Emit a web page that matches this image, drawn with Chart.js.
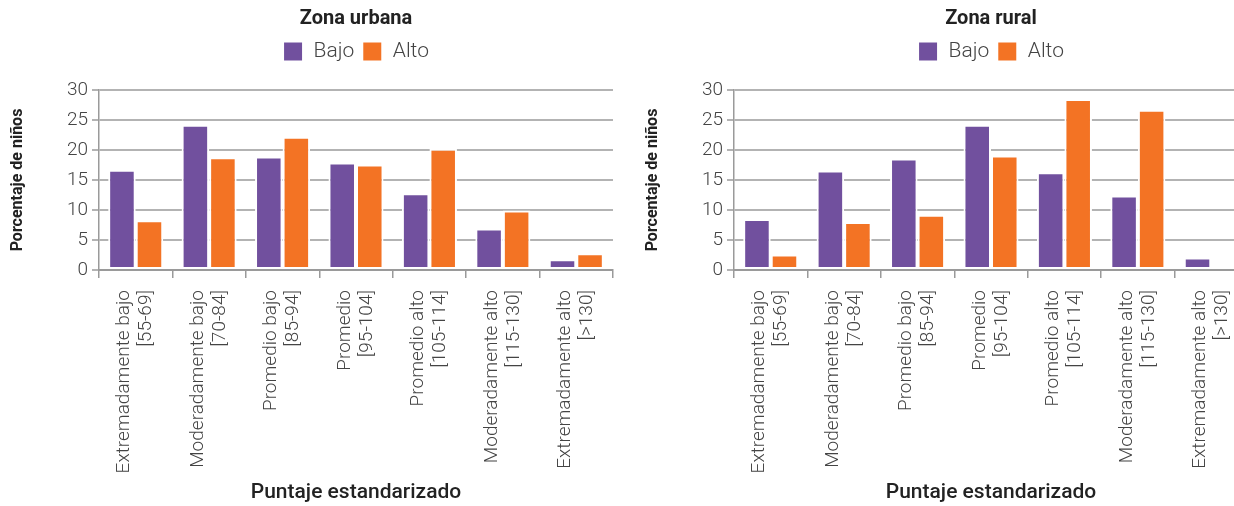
<!DOCTYPE html>
<html>
<head>
<meta charset="utf-8">
<script src="https://cdn.jsdelivr.net/npm/chart.js@4/dist/chart.umd.min.js"></script>
<style>
  html, body { margin: 0; padding: 0; background: #fff; overflow: hidden; width: 1234px; height: 506px; }
  .panel { position: absolute; top: 0; width: 620px; height: 506px; }
  #panel-urbana { left: 0; }
  #panel-rural { left: 635px; }
</style>
</head>
<body>
<div class="panel" id="panel-urbana"><canvas id="urbanaChart" width="620" height="506"></canvas></div>
<div class="panel" id="panel-rural"><canvas id="ruralChart" width="620" height="506"></canvas></div>
<script>
const categories = [
  ['Extremadamente bajo', '[55-69]'],
  ['Moderadamente bajo', '[70-84]'],
  ['Promedio bajo', '[85-94]'],
  ['Promedio', '[95-104]'],
  ['Promedio alto', '[105-114]'],
  ['Moderadamente alto', '[115-130]'],
  ['Extremadamente alto', '[>130]']
];
const seriesNames = ['Bajo', 'Alto'];

const urbanaBajo = [16.7, 24.2, 18.9, 17.9, 12.8, 6.9, 1.8];
const urbanaAlto = [8.3, 18.8, 22.2, 17.6, 20.2, 9.9, 2.8];
const ruralBajo = [8.5, 16.6, 18.6, 24.2, 16.3, 12.4, 2.1];
const ruralAlto = [2.6, 8.0, 9.2, 19.1, 28.5, 26.7, 0];

const yTicks = [0, 5, 10, 15, 20, 25, 30];

const PURPLE = '#71509e';
const ORANGE = '#f37324';
const FONT = 'Roboto, "Liberation Sans", sans-serif';
const TICK_LH = 22;

function makeChart(id, title, bajo, alto) {
  const ctx = document.getElementById(id).getContext('2d');
  return new Chart(ctx, {
    type: 'bar',
    data: {
      labels: categories,
      datasets: [
        { label: seriesNames[0], data: bajo, backgroundColor: PURPLE, borderColor: '#ffffff', borderWidth: 2, borderSkipped: false },
        { label: seriesNames[1], data: alto, backgroundColor: ORANGE, borderColor: '#ffffff', borderWidth: 2, borderSkipped: false }
      ]
    },
    options: {
      responsive: false,
      animation: false,
      datasets: { bar: { categoryPercentage: 0.75, barPercentage: 1.0 } },
      layout: { padding: { left: 0, right: 7, top: 0, bottom: 0 } },
      plugins: {
        title: {
          display: true, text: title, fullSize: false,
          color: '#222',
          font: { family: FONT, size: 20, weight: 'bold', lineHeight: 1.2 },
          padding: { top: 7, bottom: 2 }
        },
        legend: {
          display: true, fullSize: false,
          labels: {
            boxWidth: 20, boxHeight: 20, padding: 8, color: '#444',
            font: { family: FONT, size: 21, weight: 300 }
          }
        },
        // empty spacer between legend and plot area
        subtitle: {
          display: true, text: '', fullSize: false, weight: 500,
          font: { size: 10, lineHeight: 1 },
          padding: { top: 8, bottom: 0 }
        },
        tooltip: { enabled: false }
      },
      scales: {
        x: {
          z: 1,
          grid: { display: true, drawOnChartArea: false, drawTicks: true, tickLength: 8, offset: true, color: '#9a9a9a', lineWidth: 1.5 },
          border: { display: true, color: '#9a9a9a', width: 2 },
          ticks: {
            autoSkip: false, minRotation: 90, maxRotation: 90, padding: 12,
            labelOffset: -TICK_LH / 2,
            color: '#444',
            font: { family: FONT, size: 19, weight: 300, lineHeight: TICK_LH / 19 }
          },
          title: {
            display: true, text: 'Puntaje estandarizado', color: '#222',
            font: { family: FONT, size: 21, weight: 500, lineHeight: 1.2 },
            padding: { top: 0, bottom: 1 }
          },
          afterFit(scale) {
            scale.height = 236;
            scale.paddingLeft = 0;
            scale.paddingRight = 0;
          }
        },
        y: {
          min: 0, max: 30,
          afterBuildTicks(scale) { scale.ticks = yTicks.map(v => ({ value: v })); },
          grid: { color: '#b3b3b3', lineWidth: 2, tickLength: 7 },
          border: { display: true, color: '#9a9a9a', width: 1.5 },
          ticks: {
            padding: 4, color: '#444',
            font: { family: FONT, size: 19, weight: 300 }
          },
          title: {
            display: true, text: 'Porcentaje de niños', color: '#222',
            font: { family: FONT, size: 16, weight: 'bold', lineHeight: 1.2 },
            padding: { top: 8, bottom: 0 }
          },
          afterFit(scale) { scale.width = 99; }
        }
      }
    }
  });
}

makeChart('urbanaChart', 'Zona urbana', urbanaBajo, urbanaAlto);
makeChart('ruralChart', 'Zona rural', ruralBajo, ruralAlto);
</script>
</body>
</html>
